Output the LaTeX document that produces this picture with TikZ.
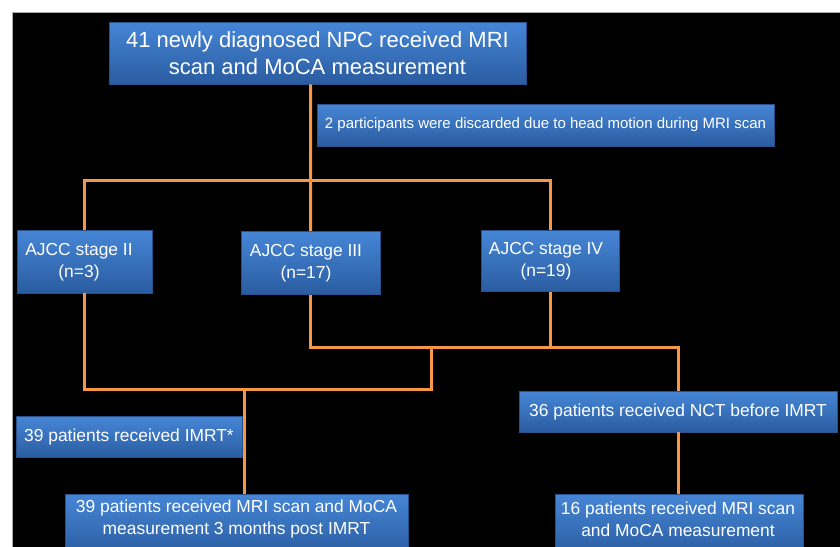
\documentclass[tikz,border=0pt]{standalone}
\usepackage{fontspec}
\setmainfont{Liberation Sans}
\definecolor{boxtop}{RGB}{70,134,214}
\definecolor{boxbot}{RGB}{42,92,160}
\definecolor{boxedge}{RGB}{40,80,140}
\definecolor{connc}{RGB}{247,150,70}
\definecolor{edgegray}{RGB}{170,170,170}
\begin{document}
\begin{tikzpicture}[x=1pt,y=-1pt,
  box/.style={rectangle, draw=boxedge, line width=0.6pt, top color=boxtop, bottom color=boxbot, text=white, align=center, inner sep=0pt},
  txt/.style={text=white, align=center, inner sep=0pt},
  conn/.style={draw=connc, line width=3pt},
  big/.style={font=\fontsize{22}{27}\selectfont},
  mid/.style={font=\fontsize{17.4}{22}\selectfont},
  small/.style={font=\fontsize{15}{18}\selectfont}]
\fill[white] (0,0) rectangle (840,546);
\useasboundingbox (0,0) rectangle (840,546);
\begin{scope}
\clip (0,0) rectangle (840,546);
\draw[fill=black, draw=edgegray, line width=0.8pt] (12.5,12.5) rectangle (845,550);

\node[box, big, minimum width=417, minimum height=62] (top) at (317.5,53) {41 newly diagnosed NPC received MRI\\scan and MoCA measurement};
\node[box, small, minimum width=457, minimum height=42] (disc) at (545.5,125) {2 participants were discarded due to head motion during MRI scan};

\node[box, minimum width=135, minimum height=63] (s2) at (84.5,261.5) {};
\node[box, minimum width=139, minimum height=63] (s3) at (310.5,263) {};
\node[box, minimum width=138, minimum height=61] (s4) at (550,261) {};
\node[txt, mid] (s2t) at (79,262) {AJCC stage II\\(n=3)};
\node[txt, mid] (s3t) at (306,263) {AJCC stage III\\(n=17)};
\node[txt, mid] (s4t) at (546,261) {AJCC stage IV\\(n=19)};

\node[box, mid, minimum width=226, minimum height=41] (imrt) at (129,437) {39 patients received IMRT*};
\node[box, mid, minimum width=318, minimum height=41] (nct) at (678,411.5) {36 patients received NCT before IMRT};

\node[box, minimum width=343, minimum height=62] (mri) at (236.5,525) {};
\node[txt, mid] (mrit) at (236.5,519) {39 patients received MRI scan and MoCA\\measurement 3 months post IMRT};
\node[box, minimum width=248, minimum height=62] (b16) at (679,525) {};
\node[txt, mid] (b16t) at (678,519) {16 patients received MRI scan\\and MoCA measurement};

\coordinate (j1) at (310.6,180);
\coordinate (j2) at (678,347);
\coordinate (u) at (431,389);
\coordinate (d) at (244.8,389);

\draw[conn] (j1 |- top.south) -- (s3.north);
\draw[conn] (s2.north) |- (s4.north |- j1) -- (s4.north);
\draw[conn] (s3.south) |- (j2) -- (nct.north);
\draw[conn] (s4.south) -- (s4.south |- j2);
\draw[conn] (s2.south) |- (u) -- (u |- j2);
\draw[conn] (d) -- (d |- mri.north);
\draw[conn] (nct.south) -- (nct.south |- b16.north);
\end{scope}
\end{tikzpicture}
\end{document}
